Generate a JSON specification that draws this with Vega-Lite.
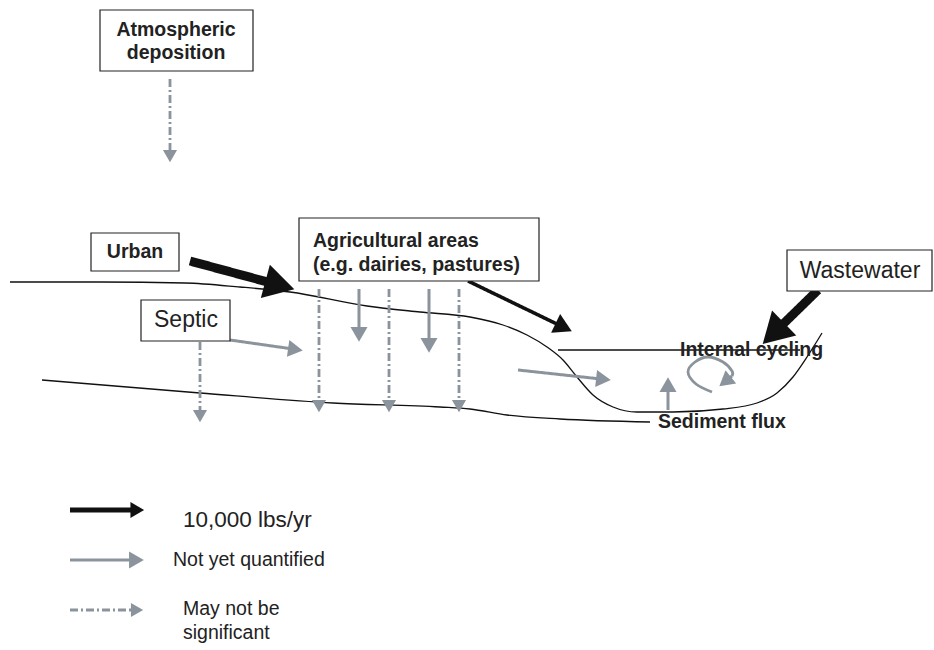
{
  "$schema": "https://vega.github.io/schema/vega-lite/v6.json",
  "width": 934,
  "height": 650,
  "autosize": {"type": "fit", "contains": "padding"},
  "padding": 0,
  "background": "white",
  "config": {"view": {"stroke": null}, "axis": {"disable": true}, "font": "Liberation Sans"},
  "datasets": {
    "curves": [
      {"curve": "land", "x": 10, "y": 282}, {"curve": "land", "x": 100, "y": 282}, {"curve": "land", "x": 185, "y": 283},
      {"curve": "land", "x": 240, "y": 287}, {"curve": "land", "x": 290, "y": 292}, {"curve": "land", "x": 367, "y": 306},
      {"curve": "land", "x": 420, "y": 312}, {"curve": "land", "x": 470, "y": 317}, {"curve": "land", "x": 503, "y": 325},
      {"curve": "land", "x": 527, "y": 335}, {"curve": "land", "x": 547, "y": 347}, {"curve": "land", "x": 563, "y": 360},
      {"curve": "land", "x": 577, "y": 377}, {"curve": "land", "x": 593, "y": 395}, {"curve": "land", "x": 613, "y": 407},
      {"curve": "land", "x": 637, "y": 412}, {"curve": "land", "x": 673, "y": 412}, {"curve": "land", "x": 723, "y": 409},
      {"curve": "land", "x": 757, "y": 403}, {"curve": "land", "x": 777, "y": 393}, {"curve": "land", "x": 793, "y": 377},
      {"curve": "land", "x": 807, "y": 357}, {"curve": "land", "x": 822, "y": 333},
      {"curve": "lower", "x": 42, "y": 380}, {"curve": "lower", "x": 200, "y": 393}, {"curve": "lower", "x": 333, "y": 403},
      {"curve": "lower", "x": 440, "y": 407}, {"curve": "lower", "x": 470, "y": 409}, {"curve": "lower", "x": 507, "y": 415},
      {"curve": "lower", "x": 560, "y": 419}, {"curve": "lower", "x": 650, "y": 422},
      {"curve": "water", "x": 558, "y": 350}, {"curve": "water", "x": 800, "y": 350}
    ],
    "loop": [
      {"i": 0, "x": 712, "y": 392}, {"i": 1, "x": 696, "y": 384}, {"i": 2, "x": 688, "y": 372}, {"i": 3, "x": 695, "y": 362},
      {"i": 4, "x": 708, "y": 357}, {"i": 5, "x": 723, "y": 362}, {"i": 6, "x": 732, "y": 371}, {"i": 7, "x": 732, "y": 376}
    ],
    "arrows": [
      {"flow": "Atmospheric deposition", "kind": "dashed", "x": 170, "y": 79, "xh": 170, "yh": 154},
      {"flow": "Urban", "kind": "big", "x": 190, "y": 261, "xh": 275, "yh": 284},
      {"flow": "Agricultural to lake", "kind": "black", "x": 468, "y": 281, "xh": 561, "yh": 326},
      {"flow": "Wastewater", "kind": "big", "x": 818, "y": 290, "xh": 777, "yh": 330},
      {"flow": "Septic", "kind": "gray", "x": 230, "y": 340, "xh": 293, "yh": 349},
      {"flow": "Agricultural 1", "kind": "gray", "x": 359, "y": 289, "xh": 359, "yh": 332},
      {"flow": "Agricultural 2", "kind": "gray", "x": 429, "y": 289, "xh": 429, "yh": 343},
      {"flow": "Lake inflow", "kind": "gray", "x": 518, "y": 370, "xh": 601, "yh": 379},
      {"flow": "Sediment flux", "kind": "gray", "x": 668, "y": 410, "xh": 668, "yh": 387},
      {"flow": "Internal cycling", "kind": "gray", "x": 732, "y": 376, "xh": 727, "yh": 380},
      {"flow": "Septic groundwater", "kind": "dashed", "x": 200, "y": 342, "xh": 200, "yh": 414},
      {"flow": "Agricultural groundwater 1", "kind": "dashed", "x": 319, "y": 289, "xh": 319, "yh": 404},
      {"flow": "Agricultural groundwater 2", "kind": "dashed", "x": 389, "y": 289, "xh": 389, "yh": 404},
      {"flow": "Agricultural groundwater 3", "kind": "dashed", "x": 459, "y": 289, "xh": 459, "yh": 404},
      {"flow": "Key 10,000 lbs/yr", "kind": "key", "x": 70, "y": 510, "xh": 135, "yh": 510},
      {"flow": "Key not yet quantified", "kind": "gray", "x": 70, "y": 560, "xh": 134, "yh": 560},
      {"flow": "Key may not be significant", "kind": "dashed", "x": 70, "y": 610, "xh": 135, "yh": 610}
    ],
    "boxes": [
      {"box": "Atmospheric deposition", "x": 100, "x2": 253, "y": 10, "y2": 71},
      {"box": "Urban", "x": 91, "x2": 179, "y": 233, "y2": 271},
      {"box": "Agricultural areas", "x": 299, "x2": 539, "y": 218, "y2": 281},
      {"box": "Septic", "x": 141, "x2": 230, "y": 300, "y2": 341},
      {"box": "Wastewater", "x": 787, "x2": 932, "y": 250, "y2": 291}
    ],
    "labels": [
      {"role": "bold-center", "text": "Atmospheric", "x": 176, "y": 30},
      {"role": "bold-center", "text": "deposition", "x": 176, "y": 53},
      {"role": "bold-center", "text": "Urban", "x": 135, "y": 252},
      {"role": "bold-left", "text": "Agricultural areas", "x": 313, "y": 241},
      {"role": "bold-left", "text": "(e.g. dairies, pastures)", "x": 313, "y": 265},
      {"role": "bold-left", "text": "Internal cycling", "x": 680, "y": 350},
      {"role": "bold-left", "text": "Sediment flux", "x": 658, "y": 422},
      {"role": "regular-center", "text": "Septic", "x": 186, "y": 320},
      {"role": "regular-center", "text": "Wastewater", "x": 860, "y": 271},
      {"role": "key-big", "text": "10,000 lbs/yr", "x": 183, "y": 520},
      {"role": "key", "text": "Not yet quantified", "x": 173, "y": 560},
      {"role": "key", "text": "May not be", "x": 183, "y": 609},
      {"role": "key", "text": "significant", "x": 183, "y": 633}
    ]
  },
  "layer": [
    {
      "data": {"name": "curves"},
      "mark": {"type": "line", "interpolate": "monotone", "color": "#111111", "strokeWidth": 1.3},
      "encoding": {
        "x": {"field": "x", "type": "quantitative", "scale": {"domain": [0, 934], "nice": false, "zero": false}},
        "y": {"field": "y", "type": "quantitative", "scale": {"domain": [0, 650], "nice": false, "zero": false, "reverse": true}},
        "detail": {"field": "curve"}
      }
    },
    {
      "data": {"name": "loop"},
      "mark": {"type": "line", "interpolate": "cardinal", "color": "#8b949c", "strokeWidth": 2.8},
      "encoding": {
        "x": {"field": "x", "type": "quantitative"},
        "y": {"field": "y", "type": "quantitative"},
        "order": {"field": "i", "type": "quantitative"}
      }
    },
    {
      "data": {"name": "arrows"},
      "mark": {"type": "rule"},
      "encoding": {
        "x": {"field": "x", "type": "quantitative"},
        "y": {"field": "y", "type": "quantitative"},
        "x2": {"field": "xh"},
        "y2": {"field": "yh"},
        "color": {"field": "kind", "type": "nominal", "legend": null,
          "scale": {"type": "ordinal", "domain": ["big", "black", "key", "gray", "dashed"], "range": ["#111111", "#111111", "#111111", "#8b949c", "#8b949c"]}},
        "strokeWidth": {"field": "kind", "type": "nominal", "legend": null,
          "scale": {"type": "ordinal", "domain": ["big", "black", "key", "gray", "dashed"], "range": [9, 3.6, 5, 3, 2.8]}},
        "strokeDash": {"field": "kind", "type": "nominal", "legend": null,
          "scale": {"type": "ordinal", "domain": ["big", "black", "key", "gray", "dashed"], "range": [[1, 0], [1, 0], [1, 0], [1, 0], [8, 3, 2, 3]]}}
      }
    },
    {
      "data": {"name": "arrows"},
      "transform": [{"calculate": "atan2(datum.xh - datum.x, datum.y - datum.yh) * 180 / PI", "as": "heading"}],
      "mark": {"type": "point", "shape": "triangle", "filled": true, "opacity": 1},
      "encoding": {
        "x": {"field": "xh", "type": "quantitative"},
        "y": {"field": "yh", "type": "quantitative"},
        "angle": {"field": "heading", "type": "quantitative", "scale": null},
        "color": {"field": "kind", "type": "nominal", "legend": null,
          "scale": {"type": "ordinal", "domain": ["big", "black", "key", "gray", "dashed"], "range": ["#111111", "#111111", "#111111", "#8b949c", "#8b949c"]}},
        "size": {"field": "kind", "type": "nominal", "legend": null,
          "scale": {"type": "ordinal", "domain": ["big", "black", "key", "gray", "dashed"], "range": [1200, 430, 250, 290, 200]}}
      }
    },
    {
      "data": {"name": "boxes"},
      "mark": {"type": "rect", "fill": "white", "stroke": "#222222", "strokeWidth": 1.2},
      "encoding": {
        "x": {"field": "x", "type": "quantitative"},
        "x2": {"field": "x2"},
        "y": {"field": "y", "type": "quantitative"},
        "y2": {"field": "y2"}
      }
    },
    {
      "data": {"name": "labels"},
      "transform": [{"filter": "datum.role === 'bold-center'"}],
      "mark": {"type": "text", "fontWeight": "bold", "fontSize": 19.5, "align": "center", "baseline": "middle", "color": "#222222"},
      "encoding": {"x": {"field": "x", "type": "quantitative"}, "y": {"field": "y", "type": "quantitative"}, "text": {"field": "text"}}
    },
    {
      "data": {"name": "labels"},
      "transform": [{"filter": "datum.role === 'bold-left'"}],
      "mark": {"type": "text", "fontWeight": "bold", "fontSize": 19.5, "align": "left", "baseline": "middle", "color": "#222222"},
      "encoding": {"x": {"field": "x", "type": "quantitative"}, "y": {"field": "y", "type": "quantitative"}, "text": {"field": "text"}}
    },
    {
      "data": {"name": "labels"},
      "transform": [{"filter": "datum.role === 'regular-center'"}],
      "mark": {"type": "text", "fontSize": 23, "align": "center", "baseline": "middle", "color": "#222222"},
      "encoding": {"x": {"field": "x", "type": "quantitative"}, "y": {"field": "y", "type": "quantitative"}, "text": {"field": "text"}}
    },
    {
      "data": {"name": "labels"},
      "transform": [{"filter": "datum.role === 'key-big'"}],
      "mark": {"type": "text", "fontSize": 22.5, "align": "left", "baseline": "middle", "color": "#222222"},
      "encoding": {"x": {"field": "x", "type": "quantitative"}, "y": {"field": "y", "type": "quantitative"}, "text": {"field": "text"}}
    },
    {
      "data": {"name": "labels"},
      "transform": [{"filter": "datum.role === 'key'"}],
      "mark": {"type": "text", "fontSize": 19.5, "align": "left", "baseline": "middle", "color": "#222222"},
      "encoding": {"x": {"field": "x", "type": "quantitative"}, "y": {"field": "y", "type": "quantitative"}, "text": {"field": "text"}}
    }
  ]
}
